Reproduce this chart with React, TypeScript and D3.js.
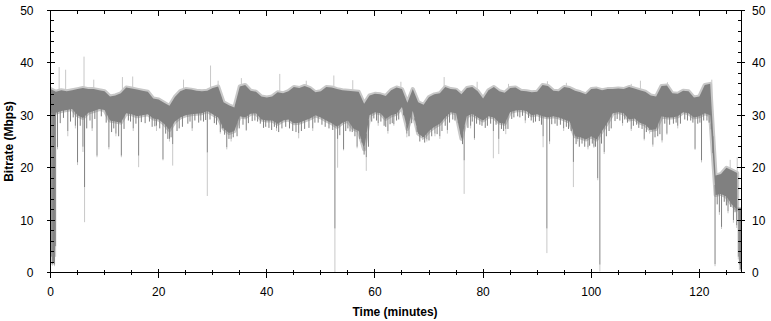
import * as d3 from 'd3'

// band of the bitrate trace, one entry per minute (index = minute)
const bandHigh = [
  35, 34.5, 34.8, 34.6, 34.8, 35, 35.2, 35, 35, 34.8,
  34.6, 33.6, 33.8, 34.2, 35.3, 35.1, 34.9, 34.7, 34.5, 33.2,
  33, 32.4, 31.8, 33.5, 34.6, 35, 34.9, 34.7, 34.6, 34.7,
  35.2, 35.5, 32.5, 31.9, 31.5, 35.5, 35.8, 34.7, 34.5, 33.6,
  33.4, 33.6, 34.4, 34.2, 34.6, 35.4, 35.2, 35.6, 35.2, 34.4,
  34.6, 35.4, 35.3, 35, 34.8, 34.7, 34.6, 34.5, 32.2, 33.8,
  34.1, 34, 33.7, 34.8, 35.3, 35, 32.4, 35, 32.5, 32,
  33.5, 34, 34.2, 35.4, 35, 34.9, 34, 35.2, 35.4, 34.6,
  33.2, 34.8, 35.4, 34.6, 34.3, 35.2, 35.3, 34.7, 34.6, 34.4,
  34.5, 35.8, 35.6, 34.7, 34.6, 35.4, 35.2, 34.7, 34.4, 34,
  35, 35.1, 34.8, 35, 35, 35.1, 35, 35.4, 35.1, 34.8,
  34.5, 33.8, 33.6, 35.6, 35.7, 34.2, 34.1, 34.7, 34.6, 33.4,
  33.6, 35.8, 36, 18.5, 18.8, 20, 19.5, 19
]
const bandLow = [
  30.5, 30.5, 30.8, 31, 31.2, 30, 29.5, 30.5, 30.8, 31.2,
  31, 29, 28.8, 28.6, 30.4, 30.2, 29.8, 30, 30.2, 29.4,
  29.2, 28.4, 27.2, 28.8, 29.6, 30, 30.2, 30.3, 30.4, 30.8,
  30.2, 29.6, 27.5, 26.6, 27, 29.8, 29.6, 30.3, 30.4, 29.2,
  29, 29, 28.4, 29, 29.2, 28.5, 28.6, 29, 29.4, 30,
  29.6, 29, 28.5, 27.8, 28.6, 29, 27.5, 27, 23.5, 30,
  30.6, 30.4, 29.3, 30, 30.3, 31.6, 27.4, 30.8, 26.5, 25.8,
  27, 27.8, 28.4, 29.6, 30.6, 30.4, 25.5, 29.8, 30.3, 29.6,
  29, 29.8, 29.6, 28.6, 28.4, 30.6, 30.9, 31, 30.8, 30,
  30.2, 29.8, 29.6, 29.8, 29.6, 29.2, 28.8, 26, 25.8, 25.4,
  26, 25.4, 27, 28.6, 30.4, 30.6, 30.4, 29.2, 29.4, 28.6,
  28.2, 27.2, 27.4, 29.8, 29.6, 29.6, 29.8, 30.6, 30.4, 29.6,
  29.8, 30.4, 30, 14.8, 15, 14.5, 13, 12
]

// deep downward spikes: time (min), depth of dark trace, depth of light peak trace
const dipTime = [
  0.02, 0.15, 0.35, 0.55, 0.75, 0.95, 1.3, 3.2, 4.6, 5.0, 6.0, 6.3, 7.7, 8.6, 10.8, 12.1, 13.1, 15.3, 16.3, 19.6, 20.8,
  22.0, 22.6, 26.2, 29.0, 31.4, 32.6, 33.4, 36.2, 41.8,
  45.9, 48.5, 52.6, 53.1, 54.2, 55.4, 56.7, 58.4, 60.6, 62.4, 63.5,
  65.9, 68.8, 69.6, 71.1, 72.0, 73.4, 76.5, 77.7, 78.4, 81.9, 82.9, 84.2,
  87.8, 91.1, 91.8, 92.3, 94.9, 96.7, 97.5, 99.4, 100.5, 101.2, 101.6, 102.4, 105.8, 107.4,
  109.8, 110.8, 111.4, 113.1, 114.0, 116.0, 119.2, 120.4, 122.5, 122.9,
  123.7, 124.1, 125.3, 126.3, 126.9, 127.2, 127.4, 127.6
]
const dipDark = [
  26, 3, 1.6, 2, 1.5, 5, 23.9, 27, 28, 21, 24, 16.3, 27.5, 22.3, 23.9, 26.5, 22.3, 27.5, 22.3, 28, 21.6,
  25.5, 24.5, 27.5, 22.9, 26.8, 23.9, 25.5, 27.2, 27.5,
  26.6, 27.5, 8.4, 25.5, 23.5, 27, 24, 22, 28.5, 27, 28.3,
  26.5, 25.8, 25.4, 26.5, 26, 27.2, 21.4, 28, 25.6, 27, 25.5, 27.4,
  29, 26, 8.4, 25, 27.5, 21.1, 25.5, 23.9, 24, 18, 1.5, 23, 28.5, 27.4,
  25.5, 27.2, 24.4, 25.2, 26.5, 28, 23.6, 21.4, 26, 1.6,
  11.5, 8.7, 11.7, 10, 9, 3, 1.5, 0.6
]
const dipLight = [
  25, 1.5, 1.3, 1.5, 1.2, 3, 23.5, 26, 27.5, 20.5, 23, 9.6, 27, 22, 23.5, 26, 22, 27, 20.1, 27, 21.4,
  25, 20.4, 27, 14.6, 26.5, 23.5, 25, 27, 27,
  25.6, 27, 0.1, 20, 23.3, 26.8, 23.7, 19.4, 28, 26.5, 28,
  25.8, 25.3, 25, 26, 25.5, 26.5, 15, 27.5, 25.3, 21.8, 22.6, 26.4,
  28.5, 23.9, 3.7, 24.5, 27, 16.3, 25, 23.5, 23.8, 17.6, 0.2, 22.6, 28, 27,
  25.2, 26.5, 24, 24.8, 26.3, 27.5, 23.4, 21, 25, 1.2,
  11, 8.3, 11.3, 9.5, 8.5, 2.5, 0.5, 0.3
]

// small dips that make the ragged lower edge: time (min), depth
const nickTime = [
  1.8, 2.4, 3.7, 4.2, 5.5, 6.7, 7.3, 8.2, 9.4, 10.3, 11.3, 11.7, 12.6, 13.6, 14.4, 14.8, 15.8, 16.8, 17.5, 18.3,
  18.8, 19.3, 20.2, 21.3, 21.7, 22.3, 23.4, 23.8, 24.4, 25.4, 25.8, 26.7, 27.4, 27.8, 28.3, 28.7, 29.5, 30.3, 30.7, 31.8,
  32.2, 33.0, 33.8, 34.5, 34.9, 35.6, 36.6, 37.3, 37.8, 38.3, 38.8, 39.4, 39.8, 40.4, 40.9, 41.4, 42.2, 42.8, 43.5, 44.2,
  44.8, 45.4, 46.4, 47.0, 47.8, 48.9, 49.5, 50.2, 50.8, 51.5, 52.2, 53.5, 54.6, 55.0, 55.8, 56.3, 57.2, 57.6, 58.0, 58.8,
  59.4, 59.8, 60.3, 61.1, 61.7, 62.0, 62.8, 63.2, 64.0, 64.4, 65.3, 66.3, 66.8, 67.4, 67.8, 68.3, 69.2, 70.0, 70.5, 71.5,
  72.4, 73.0, 73.8, 74.4, 74.8, 75.4, 75.9, 76.2, 77.2, 78.0, 78.8, 79.4, 79.8, 80.4, 80.8, 81.4, 82.4, 83.4, 83.8, 84.6,
  85.3, 85.7, 86.4, 86.8, 87.3, 88.4, 88.9, 89.3, 89.7, 90.4, 90.8, 92.7, 93.3, 93.7, 94.3, 95.4, 95.8, 96.3, 97.2, 97.8,
  98.3, 98.8, 99.7, 100.2, 100.8, 101.9, 102.8, 103.3, 103.7, 104.4, 104.8, 105.3, 106.2, 106.7, 107.8, 108.4, 108.8, 109.4, 110.2, 111.8,
  112.3, 112.7, 113.6, 114.5, 115.2, 115.7, 116.5, 117.3, 117.8, 118.4, 118.8, 119.7, 120.1, 120.8, 121.4, 121.8, 122.2, 123.3, 124.6, 125.0,
  125.8, 126.6
]
const nickValue = [
  28.5, 29.5, 28.8, 29.6, 28, 27.5, 29, 29.3, 29.8, 28.6, 26.8, 27.5, 26, 27.4, 29, 28.8, 28.4, 28.7, 28.5, 28.8,
  27.8, 27.9, 27.5, 26.5, 25.5, 25.8, 27, 27.5, 27.8, 28.4, 28.8, 29, 28.6, 29, 28.8, 29.1, 29.2, 28.5, 28.2, 27.5,
  26.3, 25.5, 25.8, 26, 27.5, 28.2, 28.5, 28.9, 29, 28.8, 28.4, 27.6, 27.8, 27.6, 27.2, 27.8, 26.8, 27.5, 27.8, 27.5,
  27, 26.8, 27, 27.4, 27.6, 28.6, 28.6, 28.2, 27.8, 27.5, 27.2, 26.2, 27, 27.5, 26.8, 26, 25.5, 24.8, 22.5, 24,
  28.8, 29.4, 29, 28.8, 28, 27.8, 28.3, 28.5, 29, 29.2, 30, 26, 28.5, 29, 26.8, 25, 24.8, 25.2, 26, 26.4,
  27, 28, 28.6, 29.2, 29, 28.6, 27, 24.5, 27.6, 28.8, 28.4, 28.2, 28, 27.6, 28, 28.4, 28.2, 27.4, 27, 27.4,
  29.3, 29.6, 29.8, 29.6, 29.9, 29.5, 29, 28.6, 28.8, 28.9, 28.2, 28.3, 28.4, 28, 28.2, 27.8, 27.4, 27, 24.5, 24,
  24.6, 24, 24.2, 24.6, 24, 24.6, 26, 27, 27.5, 28.9, 29.3, 29, 29.2, 28.6, 28, 28.2, 27.6, 27.4, 26.8, 25.8,
  26, 26.4, 28.4, 28.2, 28.4, 28.6, 28.4, 29.2, 29, 29, 28.6, 28.4, 28.6, 29, 29, 28.6, 28.4, 13, 13.5, 12.8,
  12.5, 11.5
]

// upward peaks seen only in the light trace
const peakTime = [1.6, 2.8, 6.2, 8.0, 13.3, 15.2, 24.6, 29.6, 31.0, 35.3, 42.4, 47.3, 52.4, 55.9, 64.8, 72.8, 78.9, 84.7, 91.9, 95.4, 107.4, 109.1, 114.1, 122.3, 125.7, 127.0]
const peakValue = [39.2, 38.7, 41.2, 36.8, 37.3, 37.4, 36.8, 39.5, 36.6, 37.1, 37.9, 36.6, 37.6, 36.7, 36.4, 37.3, 36.4, 36.0, 36.5, 36.2, 36.0, 36.6, 36.3, 36.8, 21.5, 22.0]

const xTicks = [0, 20, 40, 60, 80, 100, 120]
const yTicks = [0, 10, 20, 30, 40, 50]

const W = 771
const H = 321
const left = 50.5
const right = 741
const top = 10.5
const bottom = 272.5

const DARK = '#808080'
const LIGHT = '#c8c8c8'
const font = '"Liberation Sans", Arial, sans-serif'

export default function App() {
  const x = d3.scaleLinear().domain([0, 127.7]).range([left, right])
  const y = d3.scaleLinear().domain([0, 50]).range([bottom, top])

  const minutes = bandHigh.map((_, i) => i)
  const lowAt = d3.scaleLinear().domain(minutes).range(bandLow).clamp(true)
  const highAt = d3.scaleLinear().domain(minutes).range(bandHigh).clamp(true)

  const band = d3.area<number>()
    .x(i => x(Math.min(i, 127.6)))
    .y0(i => y(bandLow[i]))
    .y1(i => y(bandHigh[i]))
  const bandPath = band(minutes) || ''

  const xMinor = d3.range(0, 128, 5).filter(v => v % 20 !== 0)
  const yMinor = d3.range(0, 51, 2).filter(v => v % 10 !== 0)

  return (
    <svg width={W} height={H} style={{ position: 'absolute', left: 0, top: 0, background: '#fff' }}>
      <defs>
        <clipPath id="plot">
          <rect x={left} y={top} width={right - left} height={bottom - top} />
        </clipPath>
      </defs>

      <g clipPath="url(#plot)">
        {/* light peak trace */}
        <path d={bandPath} fill={LIGHT} stroke={LIGHT} strokeWidth={4} strokeLinejoin="round" />
        {peakTime.map((t, i) => (
          <line key={'p' + i} x1={x(t)} x2={x(t)} y1={y(highAt(t))} y2={y(peakValue[i])} stroke={LIGHT} strokeWidth={1} />
        ))}
        {dipTime.map((t, i) => (
          <line key={'l' + i} x1={x(t)} x2={x(t)} y1={y(dipDark[i])} y2={y(dipLight[i])} stroke={LIGHT} strokeWidth={1} />
        ))}
        {/* average trace */}
        <path d={bandPath} fill={DARK} />
        {nickTime.map((t, i) => (
          <line key={'n' + i} x1={x(t)} x2={x(t)} y1={y(lowAt(t)) - 2} y2={y(nickValue[i])} stroke={DARK} strokeWidth={1} />
        ))}
        {dipTime.map((t, i) => (
          <line key={'d' + i} x1={x(t)} x2={x(t)} y1={y(lowAt(t)) - 2} y2={y(dipDark[i])} stroke={DARK} strokeWidth={1} />
        ))}
      </g>

      {/* axes frame */}
      <g stroke="#000" strokeWidth={1} shapeRendering="crispEdges">
        <line x1={left} x2={right} y1={bottom} y2={bottom} />
        <line x1={left} x2={right} y1={top} y2={top} />
        <line x1={left} x2={left} y1={top} y2={bottom} />
        <line x1={right} x2={right} y1={top} y2={bottom} />
        {xTicks.map(v => (
          <g key={'xt' + v}>
            <line x1={x(v)} x2={x(v)} y1={bottom - 4} y2={bottom + 5} />
            <line x1={x(v)} x2={x(v)} y1={top} y2={top + 5} />
          </g>
        ))}
        {xMinor.map(v => (
          <g key={'xm' + v}>
            <line x1={x(v)} x2={x(v)} y1={bottom - 3} y2={bottom + 2} />
            <line x1={x(v)} x2={x(v)} y1={top} y2={top + 3} />
          </g>
        ))}
        {yTicks.map(v => (
          <g key={'yt' + v}>
            <line x1={left - 4} x2={left + 4} y1={y(v)} y2={y(v)} />
            <line x1={right - 4} x2={right + 4} y1={y(v)} y2={y(v)} />
          </g>
        ))}
        {yMinor.map(v => (
          <g key={'ym' + v}>
            <line x1={left - 1} x2={left + 3} y1={y(v)} y2={y(v)} />
            <line x1={right - 3} x2={right + 1} y1={y(v)} y2={y(v)} />
          </g>
        ))}
      </g>

      <g fontFamily={font} fontSize={12} fill="#000">
        {xTicks.map(v => (
          <text key={'xl' + v} x={x(v)} y={bottom + 23} textAnchor="middle">{v}</text>
        ))}
        {yTicks.map(v => (
          <text key={'yl' + v} x={left - 17} y={y(v) + 4.5} textAnchor="end">{v}</text>
        ))}
        {yTicks.map(v => (
          <text key={'yr' + v} x={right + 11} y={y(v) + 4.5} textAnchor="start">{v}</text>
        ))}
        <text x={395} y={316} textAnchor="middle" fontWeight="bold">Time (minutes)</text>
        <text transform={`translate(13,${(top + bottom) / 2}) rotate(-90)`} textAnchor="middle" fontWeight="bold">Bitrate (Mbps)</text>
      </g>
    </svg>
  )
}
